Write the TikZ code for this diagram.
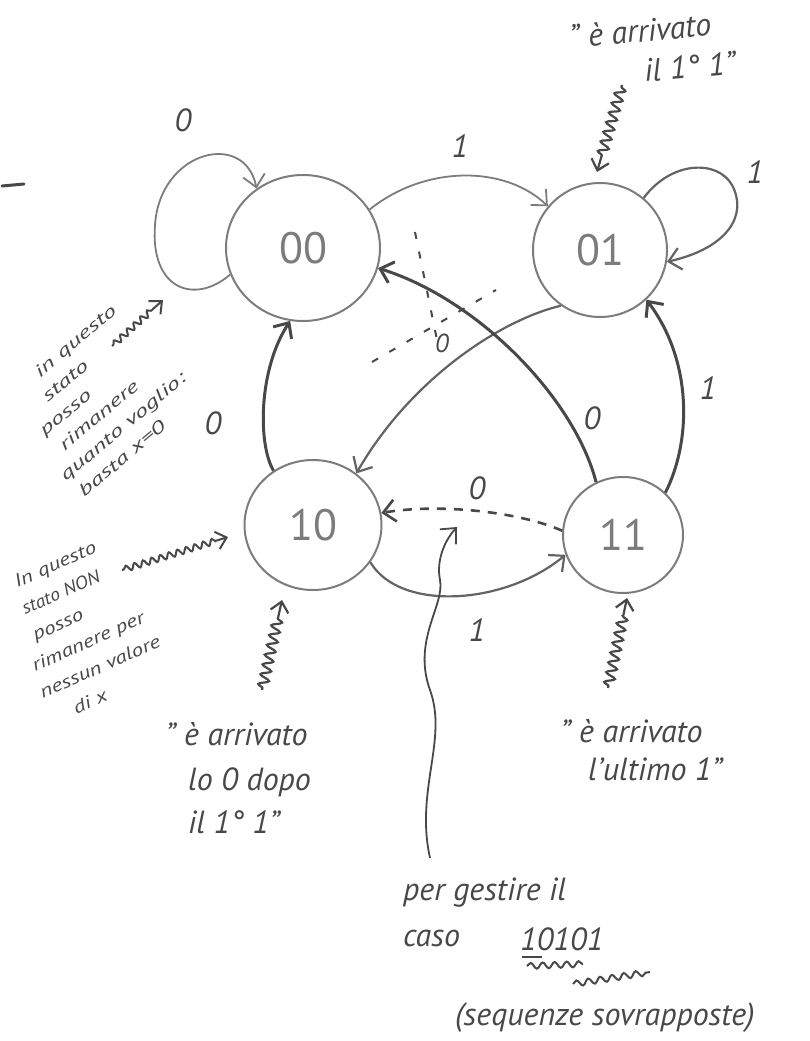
\documentclass[tikz,border=0pt]{standalone}
\usepackage{fontspec}
\setmainfont{PT Sans}
\usepackage{graphicx}
\usetikzlibrary{shapes.geometric, arrows.meta, decorations.pathmorphing}
\definecolor{ink}{HTML}{484848}
\definecolor{pencil}{HTML}{7C7C7C}
\newcommand{\wideA}[1]{\scalebox{1.6}[1]{#1}}
\newcommand{\wideB}[1]{\scalebox{1.3}[1]{#1}}

\begin{document}
\begin{tikzpicture}[x=1pt, y=-1pt,
  state/.style={ellipse, draw=pencil, line width=2pt, inner sep=0pt,
    text=pencil, font=\fontsize{44}{44}\selectfont},
  tip/.style={-{Straight Barb[length=12pt, width=22pt]}},
  thinedge/.style={draw=pencil, line width=1.8pt, tip},
  midedge/.style={draw=ink!85, line width=2.2pt, tip},
  boldedge/.style={draw=ink, line width=3pt, tip},
  dashedge/.style={draw=ink, line width=2.6pt, dash pattern=on 9pt off 8pt, tip},
  lbl/.style={text=ink, font=\fontsize{32}{32}\selectfont\itshape, inner sep=0pt},
  hand/.style={text=ink, font=\fontsize{32}{36}\selectfont\itshape, inner sep=0pt, anchor=base west},
  note/.style={text=ink, inner sep=0pt, anchor=north west, align=left},
  squig/.style={draw=ink, line width=2.2pt, decorate,
    decoration={snake, amplitude=5pt, segment length=10pt, pre length=2pt, post length=14pt},
    -{Straight Barb[length=10pt, width=18pt]}},
  smallsquig/.style={squig, line width=2pt,
    decoration={snake, amplitude=3pt, segment length=9pt, pre length=2pt, post length=12pt}},
  wavy/.style={draw=ink, line width=2pt, decorate,
    decoration={snake, amplitude=3pt, segment length=12pt}},
  strike/.style={draw=ink, line width=2pt, dash pattern=on 7pt off 13pt}
]
\useasboundingbox (0,0) rectangle (809,1041);

% states
\node[state, minimum width=154pt, minimum height=146pt] (s00) at (303,248) {\raisebox{-10pt}{00}};
\node[state, minimum width=134pt, minimum height=134pt] (s01) at (600,250) {\raisebox{-10pt}{01}};
\node[state, minimum width=137pt, minimum height=130pt] (s10) at (313,525) {\raisebox{-4pt}{10}};
\node[state, minimum width=120pt, minimum height=116pt] (s11) at (623,535) {\raisebox{-8pt}{11}};

% transitions
\draw[thinedge] (s00.200) .. controls (195,305) and (150,290) .. (155,225)
                .. controls (160,150) and (245,130) .. (s00.128);
\draw[thinedge] (s00.30) .. controls (425,165) and (505,165) .. (s01.140);
\draw[midedge] (s01.50) .. controls (672,160) and (718,160) .. (732,185)
               .. controls (748,215) and (728,248) .. (s01.-10);
\draw[midedge] (s01.235) .. controls (500,320) and (410,380) .. (s10.50);
\draw[boldedge] (s11.117) .. controls (575,400) and (480,300) .. (s00.-15);
\draw[boldedge] (s10.126) .. controls (258,445) and (258,370) .. (s00.260);
\draw[boldedge] (s11.45) .. controls (692,440) and (692,360) .. (s01.313);
\draw[midedge] (s10.-33) .. controls (400,612) and (505,605) .. (s11.199);
\draw[dashedge] (s11.176) .. controls (520,512) and (440,503) .. (s10.10);

% transition labels
\node[lbl] (l00) at (183,120) {0};
\node[lbl] (l0001) at (460,146) {1};
\node[lbl] (l01) at (755,172) {1};
\node[lbl] (l1000) at (213,423) {0};
\node[lbl] (l1100) at (592,418) {0};
\node[lbl] (l1101) at (708,388) {1};
\node[lbl] (l1110) at (477,488) {0};
\node[lbl] (l1011) at (477,630) {1};

% crossed-out label
\draw[strike] (415,232) -- (437,340);
\draw[strike] (372,362) -- (496,290);
\node[lbl, font=\fontsize{26}{26}\selectfont\itshape] (lx) at (442,343) {0};

% small mark on the left
\draw[ink, line width=3pt, line cap=round] (2,186) -- (24,184);

% note: state 01
\node[hand, rotate=5] (n01a) at (570,48) {" \`e arrivato};
\node[hand, rotate=5] (n01b) at (645,82) {il 1° 1"};
\coordinate (q01a) at (622,85);
\coordinate (q01b) at (597,172);
\draw[squig] (q01a) -- (q01b);

% note: state 10
\node[hand] (n10a) at (165,745) {" \`e arrivato};
\node[hand] (n10b) at (188,790) {lo 0 dopo};
\node[hand] (n10c) at (188,833) {il 1° 1"};
\coordinate (q10a) at (262,690);
\coordinate (q10b) at (282,600);
\draw[squig] (q10a) -- (q10b);

% note: state 11
\node[hand] (n11a) at (560,742) {" \`e arrivato};
\node[hand] (n11b) at (588,780) {l'ultimo 1"};
\coordinate (q11a) at (608,688);
\coordinate (q11b) at (627,598);
\draw[squig] (q11a) -- (q11b);

% note: staying in 00
\node[note, rotate=40, font=\fontsize{17}{24}\selectfont\itshape] (na) at (-4,399)
  {\hspace*{47pt}\wideA{in questo}\\
   \hspace*{37pt}\wideA{stato}\\
   \hspace*{13pt}\wideA{posso}\\
   \hspace*{19pt}\wideA{rimanere}\\
   \wideA{quanto voglio:}\\
   \hspace*{4pt}\wideA{basta x=0}};
\coordinate (qa1) at (112,346);
\coordinate (qa2) at (163,300);
\draw[smallsquig] (qa1) -- (qa2);

% note: never staying in 10
\node[note, rotate=24, font=\fontsize{18}{28}\selectfont\itshape] (nb) at (-8,585)
  {\hspace*{22pt}\wideB{In questo}\\
   \hspace*{18pt}\scalebox{1.1}[1]{stato NON}\\
   \hspace*{17pt}\wideB{posso}\\
   \hspace*{4pt}\wideB{rimanere per}\\
   \wideB{nessun valore}\\
   \hspace*{24pt}\wideB{di x}};
\coordinate (qb1) at (122,570);
\coordinate (qb2) at (228,537);
\draw[smallsquig] (qb1) -- (qb2);

% note: overlapping sequences
\node[hand] (g1) at (403,900) {per gestire il};
\node[hand] (g2) at (403,946) {caso};
\node[hand] (g3) at (520,950) {10101};
\node[hand] (g4) at (455,1025) {(sequenze sovrapposte)};
\draw[ink, line width=2pt] (522,957) -- (542,957);
\draw[wavy] (527,966) -- (583,964);
\draw[wavy] (573,984) -- (650,972);
\coordinate (w0) at (430,858);
\coordinate (w1) at (457,527);
\draw[thinedge, draw=ink] (w0) .. controls (415,790) and (448,740) .. (430,690)
                .. controls (412,640) and (445,605) .. (440,580)
                .. controls (436,560) and (445,540) .. (w1);
\end{tikzpicture}
\end{document}
